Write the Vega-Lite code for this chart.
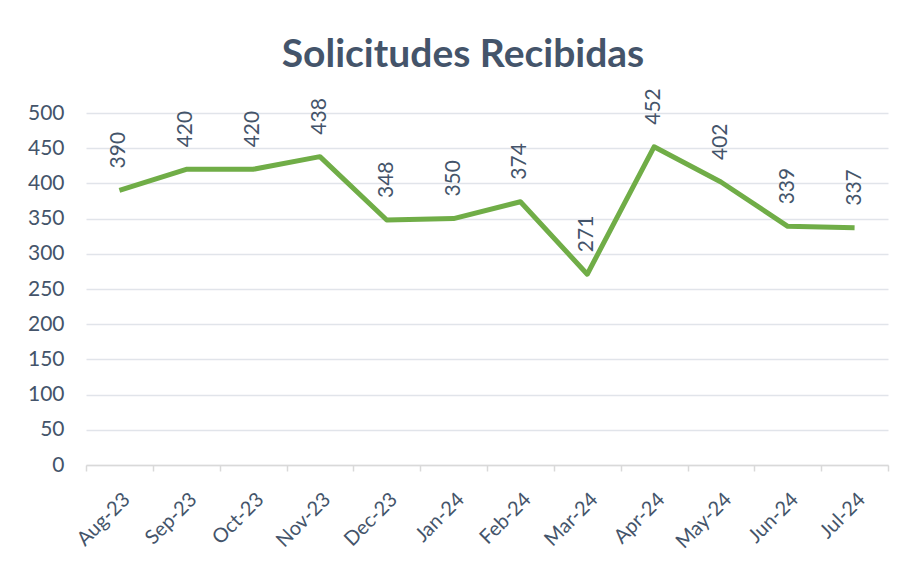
{
  "$schema": "https://vega.github.io/schema/vega-lite/v6.json",
  "width": 802,
  "height": 352,
  "autosize": "none",
  "padding": {"left": 86, "top": 113, "right": 18, "bottom": 100},
  "background": "white",
  "title": {
    "text": "Solicitudes Recibidas",
    "font": "Lato",
    "fontSize": 39,
    "fontWeight": "bold",
    "color": "#44546A",
    "anchor": "middle",
    "frame": "group",
    "dx": -24,
    "offset": 13
  },
  "data": {
    "values": [
      {"mes": "Aug-23", "valor": 390},
      {"mes": "Sep-23", "valor": 420},
      {"mes": "Oct-23", "valor": 420},
      {"mes": "Nov-23", "valor": 438},
      {"mes": "Dec-23", "valor": 348},
      {"mes": "Jan-24", "valor": 350},
      {"mes": "Feb-24", "valor": 374},
      {"mes": "Mar-24", "valor": 271},
      {"mes": "Apr-24", "valor": 452},
      {"mes": "May-24", "valor": 402},
      {"mes": "Jun-24", "valor": 339},
      {"mes": "Jul-24", "valor": 337}
    ]
  },
  "encoding": {
    "x": {
      "field": "mes",
      "type": "ordinal",
      "sort": null,
      "scale": {"paddingInner": 0, "paddingOuter": 0},
      "axis": {
        "title": null,
        "labelAngle": -45,
        "labelAlign": "right",
        "labelBaseline": "top",
        "labelFont": "Lato",
        "labelFontSize": 20,
        "labelColor": "#44546A",
        "labelPadding": 18,
        "tickBand": "extent",
        "tickColor": "#D9D9D9",
        "tickWidth": 1.5,
        "tickSize": 6,
        "domainColor": "#D9D9D9",
        "domainWidth": 1.5,
        "grid": false
      }
    },
    "y": {
      "field": "valor",
      "type": "quantitative",
      "scale": {"domain": [0, 500], "nice": false},
      "axis": {
        "title": null,
        "values": [0, 50, 100, 150, 200, 250, 300, 350, 400, 450, 500],
        "labelFont": "Lato",
        "labelFontSize": 21,
        "labelColor": "#44546A",
        "labelPadding": 22,
        "domain": false,
        "ticks": false,
        "grid": true,
        "gridColor": "#E1E4EA",
        "gridWidth": 1.5
      }
    }
  },
  "layer": [
    {
      "mark": {"type": "line", "color": "#70AD47", "strokeWidth": 5, "strokeJoin": "round", "strokeCap": "butt"}
    },
    {
      "mark": {
        "type": "text",
        "angle": 270,
        "align": "left",
        "baseline": "middle",
        "dx": 22,
        "font": "Lato",
        "fontSize": 21,
        "color": "#44546A"
      },
      "encoding": {"text": {"field": "valor", "type": "quantitative"}}
    }
  ],
  "config": {"view": {"stroke": null}}
}
